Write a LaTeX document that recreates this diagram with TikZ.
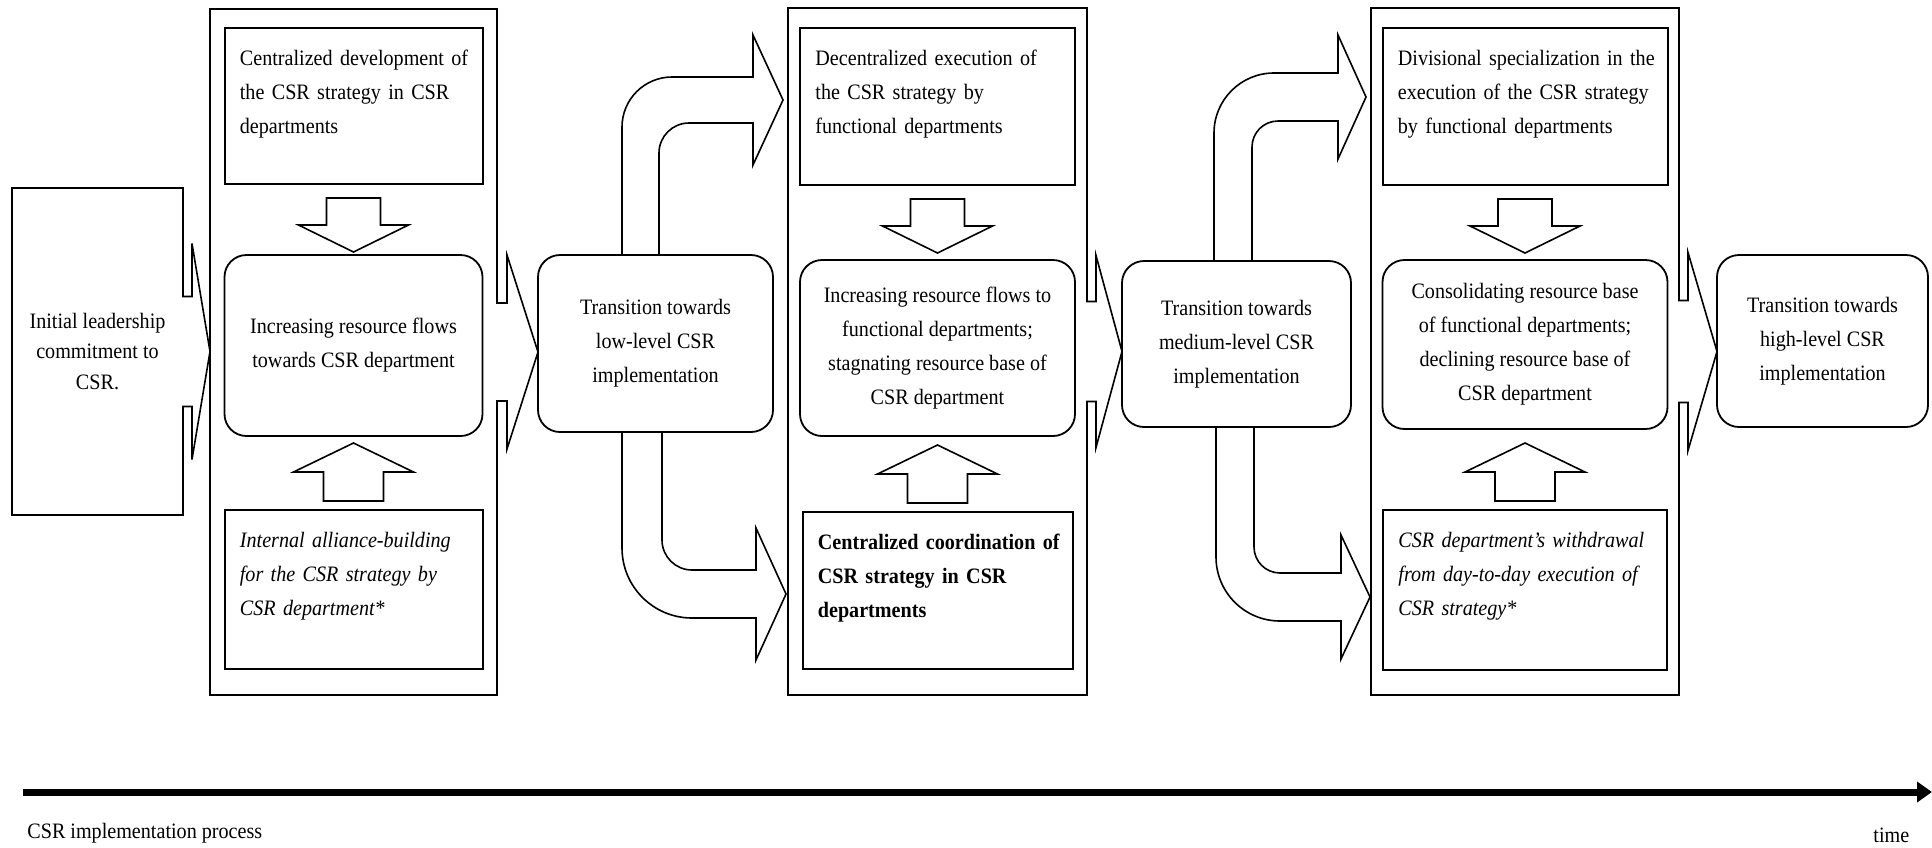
\documentclass[tikz,border=0pt]{standalone}
\usepackage{fontspec}
\setmainfont{Liberation Serif}[FakeStretch=0.915]
\usetikzlibrary{positioning,arrows.meta}
\tikzset{
frame/.style={outer sep=0,inner sep=0},
panel/.style={draw,line width=1pt,outer sep=0,inner sep=0},
stage/.style={draw,line width=0.9pt,rounded corners=11pt,outer sep=0,inner sep=0,align=center},
note/.style={inner sep=0,text width=134pt,align=left},
fat/.style={draw,line width=0.8pt,line join=miter},
outline/.style={draw,line width=0.8pt,line join=miter},
timeline/.style={line width=3.5pt,-{Triangle[length=7.5pt,width=10pt]}},
font={\fontsize{11pt}{17pt}\selectfont}
}

\begin{document}
\begin{tikzpicture}[x=0.5pt,y=-0.5pt]
  \useasboundingbox (0,0) rectangle (1932,847);
  \node[frame,minimum width=85.5pt,minimum height=163.5pt,align=center,font={\fontsize{11pt}{15.25pt}\selectfont}] (init) at (97.5,351.5) {Initial leadership\\commitment to\\CSR.};
  \node[frame,minimum width=143.5pt,minimum height=343pt] (grpA) at (353.5,352) {};
  \node[frame,minimum width=149.5pt,minimum height=343.5pt] (grpB) at (937.5,351.5) {};
  \node[frame,minimum width=154pt,minimum height=343.5pt] (grpC) at (1525,351.5) {};
  \node[stage,minimum width=117.5pt,minimum height=88.5pt] (trA) at (655.5,343.5) {Transition towards\\low-level CSR\\implementation};
  \node[stage,minimum width=114.5pt,minimum height=83pt] (trB) at (1236.5,344) {Transition towards\\medium-level CSR\\implementation};
  \node[stage,minimum width=105.5pt,minimum height=86pt] (trC) at (1822.5,341) {Transition towards\\high-level CSR\\implementation};
  % low level
  \node[panel,minimum width=129pt,minimum height=78pt,below=9.5pt of grpA.north] (devA) {};
  \node[stage,minimum width=129pt,minimum height=90.5pt,below=35.5pt of devA] (resA) {Increasing resource flows\\towards CSR department};
  \node[panel,minimum width=129pt,minimum height=79.5pt,below=37pt of resA] (allA) {};
  \node[note,below right=10.75pt and 7.5pt of devA.north west] (devAtxt) {Centralized development of\\the CSR strategy in CSR\\departments};
  \node[note,below right=10.75pt and 7.5pt of allA.north west] (allAtxt) {\itshape Internal alliance-building\\for the CSR strategy by\\CSR department*};
  % medium level
  \node[panel,minimum width=137.5pt,minimum height=78.5pt,below=10pt of grpB.north] (devB) {};
  \node[stage,minimum width=137.5pt,minimum height=88pt,below=37.5pt of devB] (resB) {Increasing resource flows to\\functional departments;\\stagnating resource base of\\CSR department};
  \node[panel,minimum width=135pt,minimum height=78.5pt,below=38pt of resB] (cooB) {};
  \node[note,below right=10.75pt and 7.5pt of devB.north west] (devBtxt) {Decentralized execution of\\the CSR strategy by\\functional departments};
  \node[note,below right=10.75pt and 7.5pt of cooB.north west] (cooBtxt) {\bfseries Centralized coordination of\\CSR strategy in CSR\\departments};
  % high level
  \node[panel,minimum width=142.5pt,minimum height=78.5pt,below=10pt of grpC.north] (devC) {};
  \node[stage,minimum width=142.5pt,minimum height=84.5pt,below=37.5pt of devC] (resC) {Consolidating resource base\\of functional departments;\\declining resource base of\\CSR department};
  \node[panel,minimum width=142pt,minimum height=80pt,below=40.5pt of resC] (wdrC) {};
  \node[note,below right=10.75pt and 7.5pt of devC.north west] (devCtxt) {Divisional specialization in the\\execution of the CSR strategy\\by functional departments};
  \node[note,below right=10.75pt and 7.5pt of wdrC.north west] (wdrCtxt) {\itshape CSR department's withdrawal\\from day-to-day execution of\\CSR strategy*};

  \draw[outline] (init.north west) -- (init.north east) -- ([shift={(0,-55)}]init.east) -- ++(9,0) -- ++(0,-53) -- (grpA.west |- init.east) -- ([shift={(9,108)}]init.east) -- ++(0,-53) -- ++(-9,0) -- (init.south east) -- (init.south west) -- cycle;
  \draw[outline] (grpA.north west) -- (grpA.north east) -- ([shift={(0,-49)}]grpA.east) -- ++(10,0) -- ++(0,-48) -- (trA.west |- grpA.east) -- ([shift={(10,97)}]grpA.east) -- ++(0,-48) -- ++(-10,0) -- (grpA.south east) -- (grpA.south west) -- cycle;
  \draw[outline] (grpB.north west) -- (grpB.north east) -- ([shift={(0,-50)}]grpB.east) -- ++(9,0) -- ++(0,-46) -- (trB.west |- grpB.east) -- ([shift={(9,96)}]grpB.east) -- ++(0,-46) -- ++(-9,0) -- (grpB.south east) -- (grpB.south west) -- cycle;
  \draw[outline] (grpC.north west) -- (grpC.north east) -- ([shift={(0,-51)}]grpC.east) -- ++(9,0) -- ++(0,-48) -- (trC.west |- grpC.east) -- ([shift={(9,99)}]grpC.east) -- ++(0,-48) -- ++(-9,0) -- (grpC.south east) -- (grpC.south west) -- cycle;

  \draw[fat] ([shift={(-27,14)}]devA.south) -- ++(54,0) -- ++(0,27) -- ++(28,0) -- ++(-55,27) -- ++(-55,-27) -- ++(28,0) -- cycle;
  \draw[fat] ([shift={(-27,14)}]devB.south) -- ++(54,0) -- ++(0,27) -- ++(28,0) -- ++(-55,27) -- ++(-55,-27) -- ++(28,0) -- cycle;
  \draw[fat] ([shift={(-27,14)}]devC.south) -- ++(54,0) -- ++(0,27) -- ++(28,0) -- ++(-55,27) -- ++(-55,-27) -- ++(28,0) -- cycle;
  \draw[fat] ([shift={(-30,-9)}]allA.north) -- ++(60,0) -- ++(0,-29) -- ++(30,0) -- ++(-60,-29) -- ++(-60,29) -- ++(30,0) -- cycle;
  \draw[fat] ([shift={(-30,-9)}]cooB.north) -- ++(60,0) -- ++(0,-29) -- ++(30,0) -- ++(-60,-29) -- ++(-60,29) -- ++(30,0) -- cycle;
  \draw[fat] ([shift={(-30,-9)}]wdrC.north) -- ++(60,0) -- ++(0,-29) -- ++(30,0) -- ++(-60,-29) -- ++(-60,29) -- ++(30,0) -- cycle;

  \draw[fat] ([shift={(-33.5,0)}]trA.north) -- (622,127) arc[start angle=180,end angle=90,radius=25pt] -- (753,77) -- (753,35) -- (783,100) -- (753,165) -- (753,123) -- (689,123) arc[start angle=90,end angle=180,radius=15pt] -- ([shift={(3.5,0)}]trA.north);
  \draw[fat] ([shift={(-33.5,0)}]trA.south) -- (622,548) arc[start angle=180,end angle=270,radius=35pt] -- (756,618) -- (756,660) -- (786,594) -- (756,528) -- (756,570) -- (692,570) arc[start angle=270,end angle=180,radius=15pt] -- ([shift={(6.5,0)}]trA.south);
  \draw[fat] ([shift={(-22.5,0)}]trB.north) -- (1214,133) arc[start angle=180,end angle=90,radius=30pt] -- (1338,73) -- (1338,35) -- (1366,97) -- (1338,159) -- (1338,121) -- (1278,121) arc[start angle=90,end angle=180,radius=13pt] -- ([shift={(15.5,0)}]trB.north);
  \draw[fat] ([shift={(-20.5,0)}]trB.south) -- (1216,557) arc[start angle=180,end angle=270,radius=32pt] -- (1341,621) -- (1341,659) -- (1370,597) -- (1341,535) -- (1341,573) -- (1280,573) arc[start angle=270,end angle=180,radius=13pt] -- ([shift={(17.5,0)}]trB.south);

  \coordinate (t0) at (23,792);
  \coordinate (t1) at (1932,792);
  \draw[timeline] (t0) -- (t1);
  \node[anchor=base west,inner sep=0] (procl) at (27,838) {CSR implementation process};
  \node[anchor=base west,inner sep=0] (timel) at (1873,842) {time};
\end{tikzpicture}
\end{document}
